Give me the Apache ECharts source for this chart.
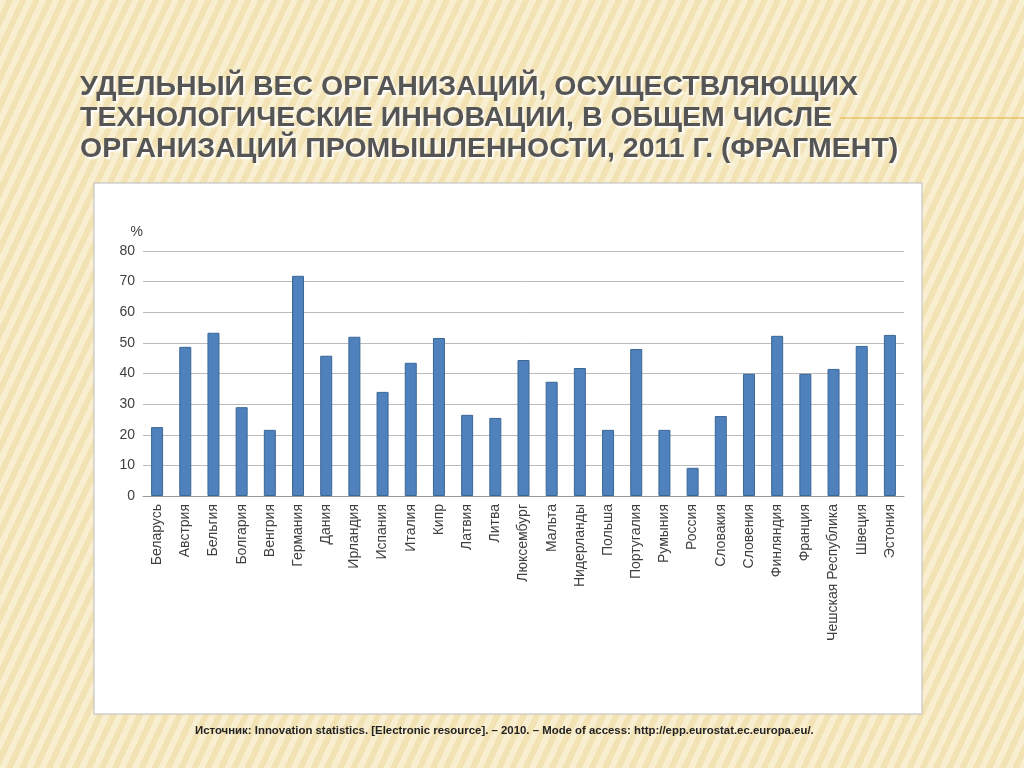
<!DOCTYPE html>
<html><head><meta charset="utf-8">
<script src="https://cdn.jsdelivr.net/npm/echarts@6/dist/echarts.min.js"></script>
<style>
html,body{margin:0;padding:0;}
#c{width:1024px;height:768px;background:#f6e9c0 repeating-linear-gradient(115deg,rgba(255,255,255,0.25) 0px,rgba(255,255,255,0.25) 6px,rgba(230,200,130,0.2) 6px,rgba(230,200,130,0.2) 12px);}
</style></head><body><div id="c"></div>
<script>
const categories=['Беларусь','Австрия','Бельгия','Болгария','Венгрия','Германия','Дания','Ирландия','Испания','Италия','Кипр','Латвия','Литва','Люксембург','Мальта','Нидерланды','Польша','Португалия','Румыния','Россия','Словакия','Словения','Финляндия','Франция','Чешская Республика','Швеция','Эстония'];
const values=[22.5,48.7,53.3,29,21.6,71.9,45.8,52,34,43.5,51.6,26.5,25.5,44.4,37.3,41.8,21.6,48,21.6,9.2,26.1,39.9,52.3,39.9,41.5,49,52.6];
const titleLines=['УДЕЛЬНЫЙ ВЕС ОРГАНИЗАЦИЙ, ОСУЩЕСТВЛЯЮЩИХ','ТЕХНОЛОГИЧЕСКИЕ ИННОВАЦИИ, В ОБЩЕМ ЧИСЛЕ','ОРГАНИЗАЦИЙ ПРОМЫШЛЕННОСТИ, 2011 Г. (ФРАГМЕНТ)'];
const source='Источник: Innovation statistics. [Electronic resource]. – 2010. – Mode of access: http://epp.eurostat.ec.europa.eu/.';
const chart=echarts.init(document.getElementById('c'));
chart.setOption({
 animation:false,
 graphic:[
  {type:'rect',z:-1,shape:{x:94,y:183,width:828,height:531},style:{fill:'#fff',stroke:'#bbb',lineWidth:1}},
  {type:'line',shape:{x1:840,y1:118,x2:1024,y2:118},style:{stroke:'#e0b040',lineWidth:1}},
  {type:'text',left:80,top:72,style:{text:titleLines.join('\n'),font:'bold 28.5px "Liberation Sans", Arial',lineHeight:31,fill:'#555',textShadowColor:'#fff',textShadowBlur:2,textShadowOffsetX:2,textShadowOffsetY:2}},
  {type:'text',left:195,top:725,style:{text:source,font:'bold 11.4px "Liberation Sans", Arial',fill:'#222'}}
 ],
 grid:{left:143,right:120,top:251,bottom:272},
 xAxis:{type:'category',data:categories,axisTick:{show:false},axisLine:{lineStyle:{color:'#999'}},
  axisLabel:{rotate:90,interval:0,fontSize:14,color:'#404040',fontFamily:'Liberation Sans'}},
 yAxis:{type:'value',min:0,max:80,interval:10,name:'%',nameGap:12,nameTextStyle:{color:'#404040',fontSize:14,align:'right'},
  axisLabel:{fontSize:14,color:'#404040',fontFamily:'Liberation Sans'},axisLine:{show:false},splitLine:{lineStyle:{color:'#bbb'}}},
 series:[{type:'bar',data:values,barWidth:12,itemStyle:{color:'#4f81bd',borderColor:'#3a6696',borderWidth:1}}]
});
</script></body></html>
